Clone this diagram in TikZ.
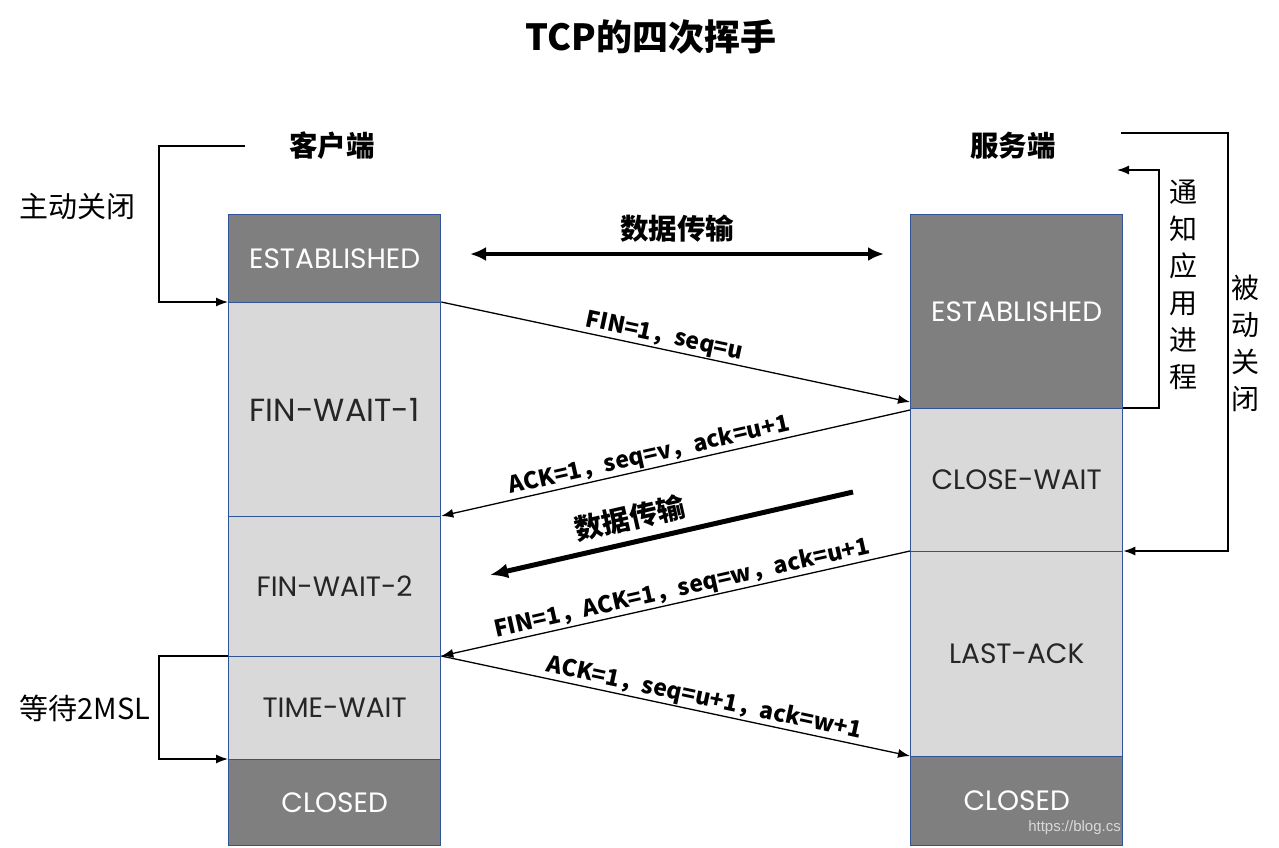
\documentclass[tikz,border=0pt]{standalone}
\usepackage{fontspec}
\newfontfamily\cjk{Noto Sans CJK SC}
\newfontfamily\pop{Poppins}
\newfontfamily\wmfont{Liberation Sans}
\usetikzlibrary{arrows.meta,calc}
\definecolor{darkc}{HTML}{7F7F7F}
\definecolor{lightc}{HTML}{D9D9D9}
\definecolor{bordc}{HTML}{2F5597}
\definecolor{txtc}{HTML}{262626}
\begin{document}
\begin{tikzpicture}[x=1pt,y=-1pt,
  box/.style={draw=bordc, line width=1.3pt, minimum width=212, inner sep=0, anchor=north west, font=\pop\fontsize{28}{32}\selectfont},
  darkbox/.style={box, fill=darkc, text=white},
  lightbox/.style={box, fill=lightc, text=txtc},
  arr/.style={line width=1.3pt, -{Latex[length=12pt,width=9pt]}},
  msg/.style={font=\cjk\bfseries\fontsize{23}{26}\selectfont, sloped, above, inner sep=1pt},
  head/.style={font=\cjk\bfseries\fontsize{28.5}{32}\selectfont},
  plain/.style={font=\cjk\fontsize{29}{32}\selectfont},
  vert/.style={font=\cjk\fontsize{28}{37}\selectfont, align=center, inner sep=0},
]
\useasboundingbox (0,0) rectangle (1279,847);

% title and headings
\node[font=\cjk\bfseries\fontsize{36}{40}\selectfont] (title) at (651,37) {TCP的四次挥手};
\node[head] (client) at (332,146) {客户端};
\node[head] (server) at (1013,146) {服务端};
\node[plain] (active) at (77,207) {主动关闭};
\node[plain] (wait) at (85,708) {等待2MSL};
\node[vert] (notify) at (1183,285) {通\\知\\应\\用\\进\\程};
\node[vert] (passive) at (1245,343) {被\\动\\关\\闭};

% left column
\node[darkbox, minimum height=88] (lest) at (228,214) {ESTABLISHED};
\node[lightbox, minimum height=214, font=\pop\fontsize{32}{36}\selectfont] (lfw1) at (228,302) {FIN-WAIT-1};
\node[lightbox, minimum height=140] (lfw2) at (228,516) {FIN-WAIT-2};
\node[lightbox, minimum height=103] (ltw) at (228,656) {TIME-WAIT};
\node[darkbox, minimum height=86] (lcl) at (228,759) {CLOSED};

% right column
\node[darkbox, minimum height=194] (rest) at (910,214) {ESTABLISHED};
\node[lightbox, minimum height=143] (rcw) at (910,408) {CLOSE-WAIT};
\node[lightbox, minimum height=205] (rla) at (910,551) {LAST-ACK};
\node[darkbox, minimum height=89] (rcl) at (910,756) {CLOSED};
\node[font=\wmfont\fontsize{15}{18}\selectfont, text=lightc, anchor=east, inner sep=0] (wm) at (1121,828) {https://blog.cs};

% data transfer double arrow
\coordinate (d1) at (470,254);
\coordinate (d2) at (884,254);
\draw[line width=4pt, {Latex[length=16pt,width=14pt]}-{Latex[length=16pt,width=14pt]}] (d1) -- node[head, above=6pt] (dlab) {数据传输} (d2);

% brackets
\coordinate (c1) at (245,146);
\draw[arr] (c1) -- (159,146) |- (lfw1.north west);
\draw[arr] (ltw.north west) -- (159,656) |- (lcl.north west);
\coordinate (c2) at (1121,133);
\draw[arr] (c2) -- (1228,133) |- (rla.north east);
\coordinate (c3) at (1117,170);
\draw[arr] (rcw.north east) -- (1159,408) |- (c3);

% messages
\coordinate (p1) at (910,402);
\draw[arr] (lfw1.north east) -- node[msg, pos=0.47] {FIN=1，seq=u} (p1);
\coordinate (p2) at (910,410);
\draw[arr] (p2) -- node[msg, pos=0.55] {ACK=1，seq=v，ack=u+1} (lfw2.north east);
\coordinate (t1) at (853,492);
\coordinate (t2) at (490,575);
\draw[line width=5pt, -{Latex[length=18pt,width=15pt]}] (t1) -- node[pos=0.6, sloped, above=5pt, font=\cjk\bfseries\fontsize{28}{32}\selectfont] {数据传输} (t2);
\draw[arr] (rla.north west) -- node[msg, pos=0.48] {FIN=1，ACK=1，seq=w，ack=u+1} (ltw.north east);
\draw[arr] (ltw.north east) -- node[msg, pos=0.555] {ACK=1，seq=u+1，ack=w+1} (rcl.north west);
\end{tikzpicture}
\end{document}
